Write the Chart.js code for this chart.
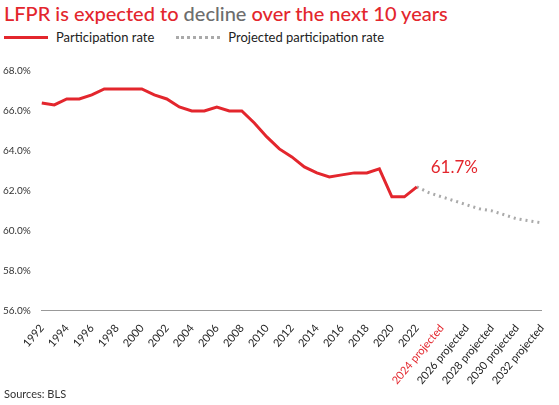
<!DOCTYPE html>
<html><head><meta charset="utf-8">
<script src="https://cdn.jsdelivr.net/npm/chart.js@4"></script>
<style>
body{margin:0;width:559px;height:405px;background:#fff;font-family:Lato,"Open Sans",sans-serif;position:relative;overflow:hidden}
#t{position:absolute;left:4px;top:1px;font-size:20px;color:#e3262d;font-weight:500}
#t span{color:#6d6d6d}
#lg{position:absolute;left:4px;top:29px;font-size:13px;color:#222;display:flex;align-items:center}
.sw{display:inline-block;width:44px;margin-right:8px}
#src{position:absolute;left:4px;top:387px;font-size:11px;color:#333}
#cw{position:absolute;left:0;top:55px;width:555px;height:335px}
</style></head><body>
<div id="t">LFPR is expected to <span>decline</span> over the next 10 years</div>
<div id="lg"><span class="sw" style="border-top:3px solid #e3262d"></span>Participation rate<span style="width:22px"></span><span class="sw" style="border-top:3px dotted #aaa"></span>Projected participation rate</div>
<div id="cw"><canvas id="c"></canvas></div>
<div id="src">Sources: BLS</div>
<script>
const years=[];for(let y=1992;y<=2032;y++)years.push(y);
const actual=[66.4,66.3,66.6,66.6,66.8,67.1,67.1,67.1,67.1,66.8,66.6,66.2,66.0,66.0,66.2,66.0,66.0,65.4,64.7,64.1,63.7,63.2,62.9,62.7,62.8,62.9,62.9,63.1,61.7,61.7,62.2];
const projected=[62.2,61.9,61.7,61.5,61.3,61.1,61.0,60.8,60.6,60.5,60.4];
const labels=years.map(y=>y>2022?y+' projected':String(y));
const actData=labels.map((l,i)=>i<actual.length?actual[i]:null);
const projData=labels.map((l,i)=>i>=30?projected[i-30]:null);
const ann={id:'ann',afterDatasetsDraw(ch){const c=ch.ctx,x=ch.scales.x.getPixelForValue(33),y=ch.scales.y.getPixelForValue(62.9);c.save();c.fillStyle='#e3262d';c.font='17px Lato';c.textAlign='center';c.fillText('61.7%',x,y);c.restore();}};
new Chart(document.getElementById('c'),{type:'line',data:{labels,datasets:[
{data:actData,borderColor:'#e3262d',borderWidth:3,pointRadius:0,tension:0},
{data:projData,borderColor:'#aaa',borderWidth:3,borderDash:[2,4],pointRadius:0,tension:0}]},
options:{responsive:true,maintainAspectRatio:false,animation:false,plugins:{legend:{display:false},tooltip:{enabled:false}},
layout:{padding:{top:16,right:4}},
scales:{x:{grid:{display:false},border:{color:'#999'},ticks:{autoSkip:false,maxRotation:50,minRotation:50,font:{family:'Lato',size:11},
color:(c)=>c.index===32?'#e3262d':'#222',callback:(v,i)=>i%2===0?labels[i]:''}},
y:{min:56,max:68,grid:{display:false},border:{display:false},ticks:{stepSize:2,font:{family:'Lato',size:10},color:'#333',callback:v=>v.toFixed(1)+'%'}}}},
plugins:[ann]});
</script></body></html>
